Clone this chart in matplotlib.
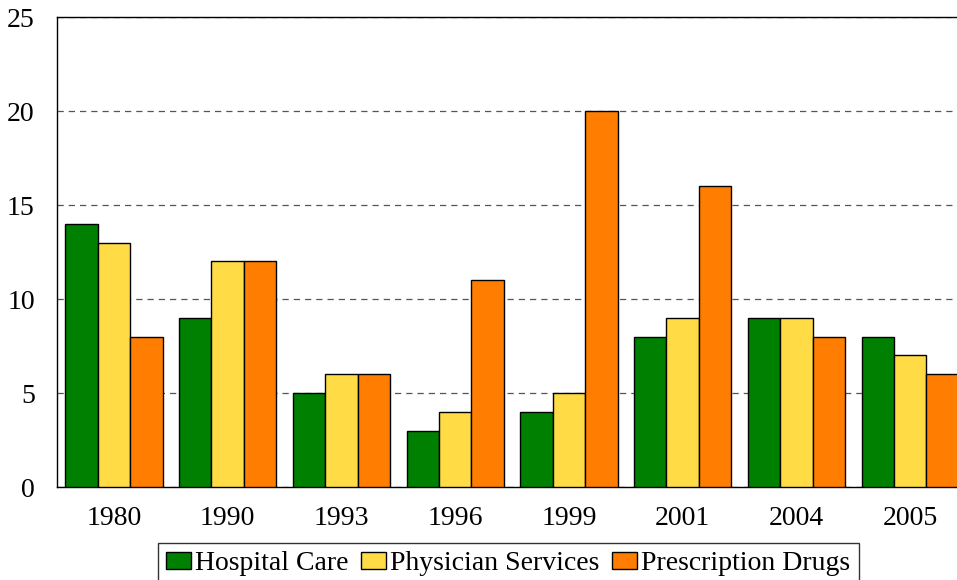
import numpy as np
import matplotlib.pyplot as plt

plt.rcParams["font.family"] = ["Liberation Serif", "DejaVu Serif"]

years = ["1980", "1990", "1993", "1996", "1999", "2001", "2004", "2005"]
hospital = [14, 9, 5, 3, 4, 8, 9, 8]
physician = [13, 12, 6, 4, 5, 9, 9, 7]
drugs = [8, 12, 6, 11, 20, 16, 8, 6]

series = [
    ("Hospital Care", hospital, "#008000"),
    ("Physician Services", physician, "#FFDC46"),
    ("Prescription Drugs", drugs, "#FF7D00"),
]

fig = plt.figure(figsize=(9.57, 5.8), dpi=100)
ax = fig.add_axes([0.0596, 0.1603, 0.9509, 0.8103])

x = np.arange(len(years))
width = 0.285
for i, (label, vals, color) in enumerate(series):
    ax.bar(x + (i - 1) * width, vals, width, color=color, edgecolor="black",
           linewidth=1.0, label=label, zorder=3)

ax.set_xlim(-0.5, len(years) - 0.5)
ax.set_ylim(0, 25)
ax.set_yticks([0, 5, 10, 15, 20, 25])
ax.set_xticks(x)
ax.set_xticklabels(years)
ax.tick_params(axis="both", length=0, labelsize=20)
ax.tick_params(axis="x", pad=14)
ax.tick_params(axis="y", pad=16)

ax.yaxis.grid(True, linestyle=(0, (5, 4)), color="#555555", linewidth=0.9)
ax.set_axisbelow(True)
for side in ["left", "bottom", "top"]:
    ax.spines[side].set_color("black")
    ax.spines[side].set_linewidth(1.0)
ax.spines["right"].set_visible(False)

fig.legend(loc="upper center", bbox_to_anchor=(0.531, 0.064), ncol=3,
           fontsize=20, frameon=True, fancybox=False, edgecolor="black",
           handlelength=0.9, handleheight=0.6, handletextpad=0.15,
           columnspacing=0.45, borderpad=0.3, borderaxespad=0)

fig.savefig("out.png", dpi=100, facecolor="w")
